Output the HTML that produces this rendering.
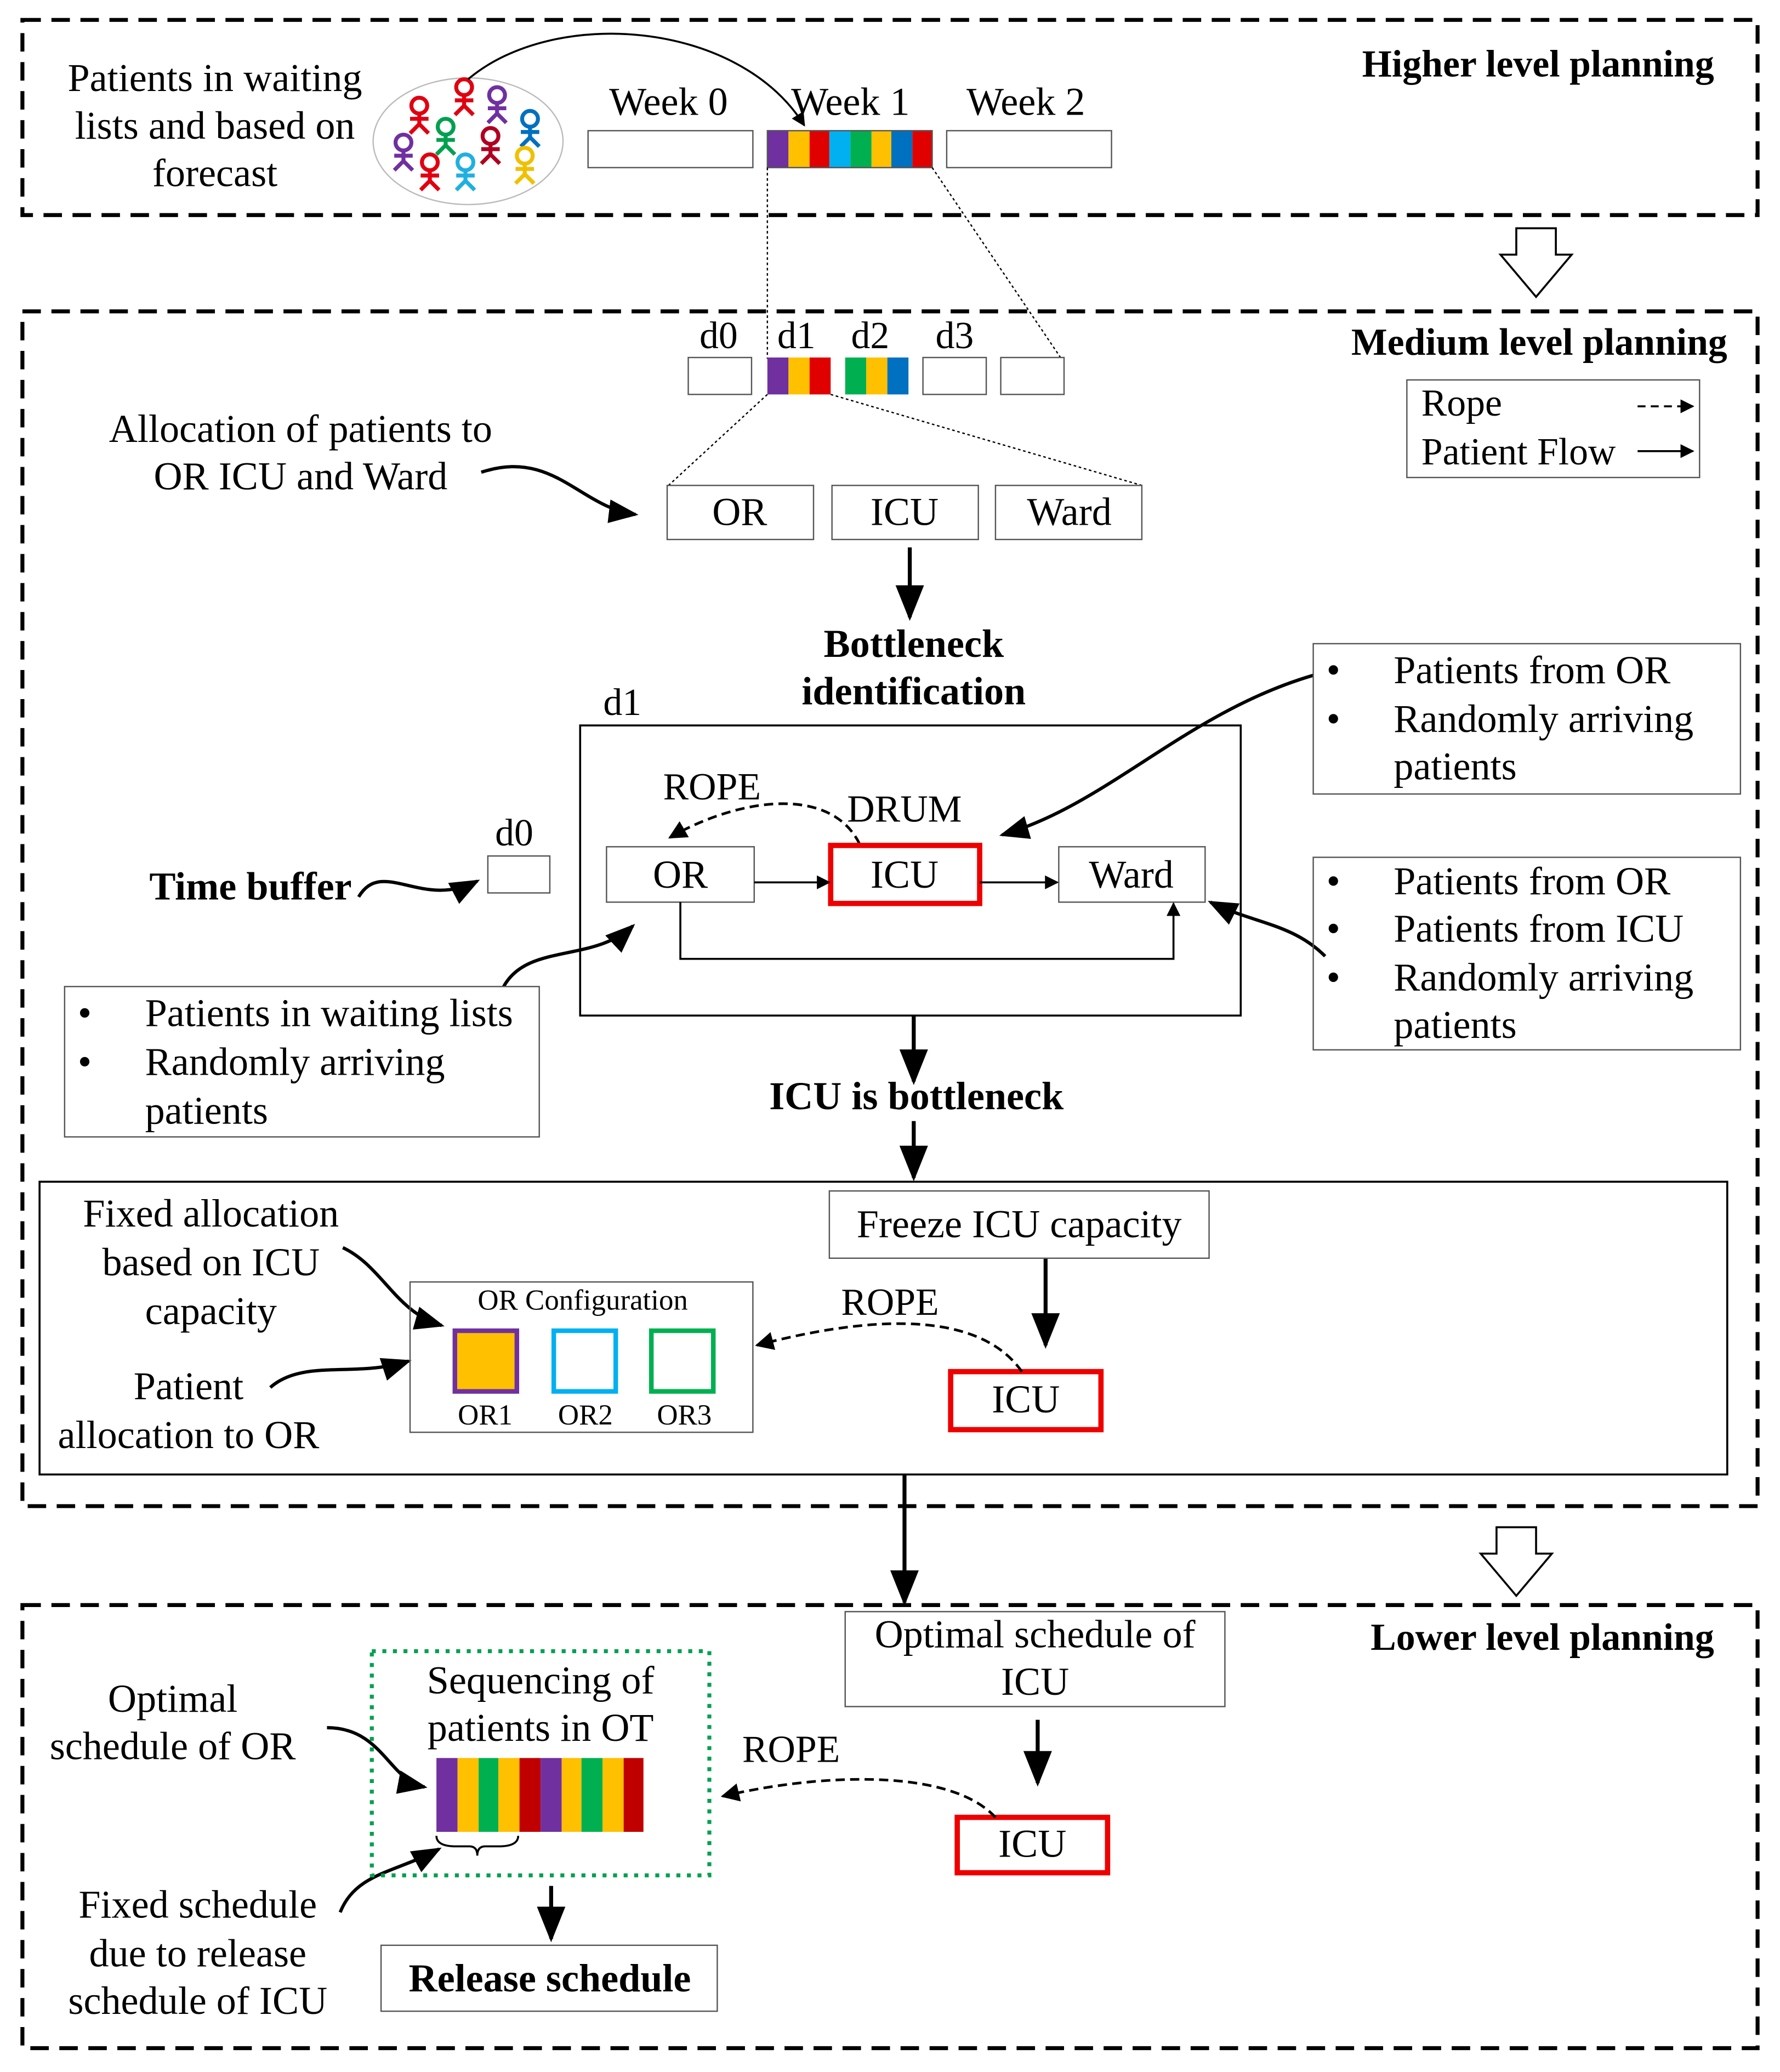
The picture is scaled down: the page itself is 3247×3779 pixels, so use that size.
<!DOCTYPE html>
<html><head><meta charset="utf-8"><style>
html,body{margin:0;padding:0;background:#fff}
svg{display:block}
text{font-family:"Liberation Serif",serif;fill:#000}
</style></head><body>
<svg width="3247" height="3779" viewBox="0 0 1350 1571" xmlns="http://www.w3.org/2000/svg">
<defs>
<marker id="ah" viewBox="0 0 10 10" refX="9" refY="5" markerWidth="7" markerHeight="7" orient="auto"><path d="M0,0 L10,5 L0,10 Z" fill="#000"/></marker>
<marker id="as" viewBox="0 0 10 10" refX="9" refY="5" markerWidth="9" markerHeight="9" orient="auto"><path d="M0,1 L10,5 L0,9 Z" fill="#000"/></marker>
<g id="fig"><circle cx="0" cy="0" r="6" fill="none" stroke-width="3"/><line x1="0" y1="6" x2="0" y2="14" stroke-width="3"/><line x1="-7" y1="10" x2="7" y2="10" stroke-width="3"/><line x1="0" y1="14" x2="-7" y2="21" stroke-width="3"/><line x1="0" y1="14" x2="7" y2="21" stroke-width="3"/></g>
</defs>
<rect width="1350" height="1571" fill="#fff"/>
<g fill="none" stroke="#000" stroke-width="3" stroke-dasharray="14 8">
<rect x="17" y="15" width="1316" height="148"/>
<rect x="17" y="236" width="1316" height="906"/>
<rect x="17" y="1217" width="1316" height="336"/>
</g>
<g font-size="30" text-anchor="middle">
<text x="163" y="69">Patients in waiting</text><text x="163" y="105">lists and based on</text><text x="163" y="141">forecast</text>
<text x="507" y="87">Week 0</text><text x="645" y="87">Week 1</text><text x="778" y="87">Week 2</text>
</g>
<text x="1300" y="58" font-size="29" font-weight="bold" text-anchor="end">Higher level planning</text>
<ellipse cx="355" cy="107" rx="72" ry="48" fill="none" stroke="#bbb" stroke-width="1"/>
<use href="#fig" x="352" y="66" stroke="#e00010"/><use href="#fig" x="318" y="80" stroke="#e00010"/><use href="#fig" x="377" y="72" stroke="#7030a0"/>
<use href="#fig" x="338" y="96" stroke="#00a050"/><use href="#fig" x="402" y="90" stroke="#0070c0"/><use href="#fig" x="306" y="108" stroke="#7030a0"/>
<use href="#fig" x="372" y="103" stroke="#b00020"/><use href="#fig" x="326" y="123" stroke="#e00010"/><use href="#fig" x="353" y="123" stroke="#20b0e0"/><use href="#fig" x="398" y="118" stroke="#f0c000"/>
<path d="M355,60 C420,5 560,15 610,95" fill="none" stroke="#000" stroke-width="1.5" marker-end="url(#ah)"/>
<g stroke="#555" stroke-width="1" fill="#fff"><rect x="446" y="99" width="125" height="28"/><rect x="718" y="99" width="125" height="28"/></g>
<g stroke="none">
<rect x="582" y="99" width="16" height="28" fill="#7030a0"/><rect x="598" y="99" width="16" height="28" fill="#ffc000"/><rect x="614" y="99" width="15" height="28" fill="#e00000"/><rect x="629" y="99" width="16" height="28" fill="#00b0f0"/><rect x="645" y="99" width="16" height="28" fill="#00b050"/><rect x="661" y="99" width="15" height="28" fill="#ffc000"/><rect x="676" y="99" width="16" height="28" fill="#0070c0"/><rect x="692" y="99" width="15" height="28" fill="#e00000"/>
</g>
<rect x="582" y="99" width="125" height="28" fill="none" stroke="#555" stroke-width="1"/>
<g stroke="#000" stroke-width="1" stroke-dasharray="2 2"><line x1="582" y1="127" x2="582" y2="272"/><line x1="707" y1="127" x2="805" y2="272"/><line x1="582" y1="299" x2="507" y2="368"/><line x1="630" y1="299" x2="866" y2="368"/></g>
<path d="M1150,173 h30 v20 h12 l-27,32 l-27,-32 h12 z" fill="#fff" stroke="#000" stroke-width="1.5"/>
<path d="M1135,1158 h30 v20 h12 l-27,32 l-27,-32 h12 z" fill="#fff" stroke="#000" stroke-width="1.5"/>
<g font-size="29" text-anchor="middle"><text x="545" y="264">d0</text><text x="604" y="264">d1</text><text x="660" y="264">d2</text><text x="724" y="264">d3</text></g>
<text x="1310" y="269" font-size="29" font-weight="bold" text-anchor="end">Medium level planning</text>
<g stroke="#555" stroke-width="1" fill="#fff"><rect x="522" y="271" width="48" height="28"/><rect x="700" y="271" width="48" height="28"/><rect x="759" y="271" width="48" height="28"/></g>
<rect x="582" y="271" width="16" height="28" fill="#7030a0"/><rect x="598" y="271" width="16" height="28" fill="#ffc000"/><rect x="614" y="271" width="16" height="28" fill="#e00000"/>
<rect x="641" y="271" width="16" height="28" fill="#00b050"/><rect x="657" y="271" width="16" height="28" fill="#ffc000"/><rect x="673" y="271" width="16" height="28" fill="#0070c0"/>
<rect x="1067" y="288" width="222" height="74" fill="none" stroke="#555" stroke-width="1"/>
<text x="1078" y="315" font-size="29">Rope</text><text x="1078" y="352" font-size="29">Patient Flow</text>
<line x1="1242" y1="308" x2="1284" y2="308" stroke="#000" stroke-width="1.5" stroke-dasharray="6 4" marker-end="url(#ah)"/>
<line x1="1242" y1="342" x2="1284" y2="342" stroke="#000" stroke-width="1.5" marker-end="url(#ah)"/>
<g font-size="30" text-anchor="middle"><text x="228" y="335">Allocation of patients to</text><text x="228" y="371">OR ICU and Ward</text></g>
<path d="M365,358 C420,340 440,385 482,390" fill="none" stroke="#000" stroke-width="2.5" marker-end="url(#as)"/>
<g stroke="#555" stroke-width="1" fill="#fff"><rect x="506" y="368" width="111" height="41"/><rect x="631" y="368" width="111" height="41"/><rect x="755" y="368" width="111" height="41"/></g>
<g font-size="30" text-anchor="middle"><text x="561" y="398">OR</text><text x="686" y="398">ICU</text><text x="811" y="398">Ward</text></g>
<g stroke="#000" stroke-width="3" marker-end="url(#as)">
<line x1="690" y1="415" x2="690" y2="468"/><line x1="693" y1="770" x2="693" y2="820"/><line x1="693" y1="850" x2="693" y2="893"/>
<line x1="793" y1="954" x2="793" y2="1020"/><line x1="686" y1="1118" x2="686" y2="1215"/><line x1="787" y1="1304" x2="787" y2="1352"/><line x1="418" y1="1430" x2="418" y2="1470"/>
</g>
<g font-size="30" font-weight="bold" text-anchor="middle"><text x="693" y="498">Bottleneck</text><text x="693" y="534">identification</text><text x="695" y="841">ICU is bottleneck</text></g>
<text x="472" y="542" font-size="29" text-anchor="middle">d1</text>
<rect x="440" y="550" width="501" height="220" fill="none" stroke="#000" stroke-width="1.5"/>
<text x="540" y="606" font-size="29" text-anchor="middle">ROPE</text><text x="686" y="623" font-size="29" text-anchor="middle">DRUM</text>
<path d="M652,640 C630,595 560,605 508,635" fill="none" stroke="#000" stroke-width="2" stroke-dasharray="7 4" marker-end="url(#ah)"/>
<rect x="460" y="642" width="112" height="42" fill="#fff" stroke="#555" stroke-width="1"/>
<rect x="630" y="641" width="113" height="44" fill="#fff" stroke="#e00" stroke-width="4"/>
<rect x="803" y="642" width="111" height="42" fill="#fff" stroke="#555" stroke-width="1"/>
<g font-size="30" text-anchor="middle"><text x="516" y="673">OR</text><text x="686" y="673">ICU</text><text x="858" y="673">Ward</text></g>
<g stroke="#000" stroke-width="1.5" fill="none" marker-end="url(#ah)"><line x1="572" y1="669" x2="629" y2="669"/><line x1="743" y1="669" x2="802" y2="669"/><path d="M516,684 V727 H890 V685"/></g>
<text x="390" y="641" font-size="29" text-anchor="middle">d0</text>
<rect x="370" y="649" width="47" height="28" fill="#fff" stroke="#555" stroke-width="1"/>
<text x="190" y="682" font-size="30" font-weight="bold" text-anchor="middle">Time buffer</text>
<g stroke="#000" stroke-width="2.5" fill="none" marker-end="url(#as)">
<path d="M272,680 C290,650 320,690 362,668"/>
<path d="M996,512 C900,540 840,610 760,633"/>
<path d="M1005,725 C980,700 950,700 918,684"/>
<path d="M382,748 C400,715 450,730 480,702"/>
<path d="M260,946 C290,960 300,995 335,1005"/>
<path d="M205,1052 C230,1030 270,1045 310,1032"/>
<path d="M248,1310 C290,1310 295,1350 322,1355"/>
<path d="M258,1450 C270,1420 300,1420 333,1402"/>
</g>
<rect x="996" y="488" width="324" height="114" fill="none" stroke="#555" stroke-width="1"/>
<rect x="996" y="650" width="324" height="146" fill="none" stroke="#555" stroke-width="1"/>
<rect x="49" y="748" width="360" height="114" fill="none" stroke="#555" stroke-width="1"/>
<g font-size="30">
<text x="1006" y="518">•</text><text x="1057" y="518">Patients from OR</text><text x="1006" y="555">•</text><text x="1057" y="555">Randomly arriving</text><text x="1057" y="591">patients</text>
<text x="1006" y="678">•</text><text x="1057" y="678">Patients from OR</text><text x="1006" y="714">•</text><text x="1057" y="714">Patients from ICU</text><text x="1006" y="751">•</text><text x="1057" y="751">Randomly arriving</text><text x="1057" y="787">patients</text>
<text x="59" y="778">•</text><text x="110" y="778">Patients in waiting lists</text><text x="59" y="815">•</text><text x="110" y="815">Randomly arriving</text><text x="110" y="852">patients</text>
</g>
<rect x="30" y="896" width="1280" height="222" fill="none" stroke="#000" stroke-width="1.5"/>
<rect x="629" y="903" width="288" height="51" fill="none" stroke="#555" stroke-width="1"/>
<text x="773" y="938" font-size="30" text-anchor="middle">Freeze ICU capacity</text>
<rect x="721" y="1040" width="114" height="44" fill="#fff" stroke="#e00" stroke-width="4"/>
<text x="778" y="1071" font-size="30" text-anchor="middle">ICU</text>
<text x="675" y="997" font-size="29" text-anchor="middle">ROPE</text>
<path d="M775,1040 C740,990 650,1000 574,1020" fill="none" stroke="#000" stroke-width="2" stroke-dasharray="7 4" marker-end="url(#ah)"/>
<rect x="311" y="972" width="260" height="114" fill="none" stroke="#555" stroke-width="1"/>
<text x="442" y="993" font-size="22" text-anchor="middle">OR Configuration</text>
<rect x="345" y="1009" width="47" height="46" fill="#ffc000" stroke="#7030a0" stroke-width="3.5"/>
<rect x="420" y="1009" width="47" height="46" fill="#fff" stroke="#00b0f0" stroke-width="3.5"/>
<rect x="494" y="1009" width="47" height="46" fill="#fff" stroke="#00b050" stroke-width="3.5"/>
<g font-size="22" text-anchor="middle"><text x="368" y="1080">OR1</text><text x="444" y="1080">OR2</text><text x="519" y="1080">OR3</text></g>
<g font-size="30" text-anchor="middle">
<text x="160" y="930">Fixed allocation</text><text x="160" y="967">based on ICU</text><text x="160" y="1004">capacity</text>
<text x="143" y="1061">Patient</text><text x="143" y="1098">allocation to OR</text>
</g>
<text x="1300" y="1251" font-size="29" font-weight="bold" text-anchor="end">Lower level planning</text>
<rect x="641" y="1222" width="288" height="72" fill="none" stroke="#555" stroke-width="1"/>
<g font-size="30" text-anchor="middle"><text x="785" y="1249">Optimal schedule of</text><text x="785" y="1285">ICU</text></g>
<rect x="726" y="1378" width="114" height="42" fill="#fff" stroke="#e00" stroke-width="4"/>
<text x="783" y="1408" font-size="30" text-anchor="middle">ICU</text>
<text x="600" y="1336" font-size="29" text-anchor="middle">ROPE</text>
<path d="M755,1378 C720,1340 620,1345 548,1362" fill="none" stroke="#000" stroke-width="2" stroke-dasharray="7 4" marker-end="url(#ah)"/>
<rect x="282" y="1252" width="256" height="170" fill="none" stroke="#00a050" stroke-width="3" stroke-dasharray="3 5"/>
<g font-size="30" text-anchor="middle"><text x="410" y="1284">Sequencing of</text><text x="410" y="1320">patients in OT</text></g>
<g>
<rect x="331" y="1333" width="16" height="56" fill="#7030a0"/><rect x="347" y="1333" width="16" height="56" fill="#ffc000"/><rect x="363" y="1333" width="15" height="56" fill="#00b050"/><rect x="378" y="1333" width="16" height="56" fill="#ffc000"/><rect x="394" y="1333" width="16" height="56" fill="#c00000"/>
<rect x="410" y="1333" width="16" height="56" fill="#7030a0"/><rect x="426" y="1333" width="15" height="56" fill="#ffc000"/><rect x="441" y="1333" width="16" height="56" fill="#00b050"/><rect x="457" y="1333" width="16" height="56" fill="#ffc000"/><rect x="473" y="1333" width="15" height="56" fill="#c00000"/>
</g>
<path d="M331,1392 q0,8 15,8 h10 q6,0 6,7 q0,-7 6,-7 h10 q15,0 15,-8" fill="none" stroke="#000" stroke-width="1.5"/>
<g font-size="30" text-anchor="middle">
<text x="131" y="1298">Optimal</text><text x="131" y="1334">schedule of OR</text>
<text x="150" y="1454">Fixed schedule</text><text x="150" y="1491">due to release</text><text x="150" y="1527">schedule of ICU</text>
</g>
<rect x="289" y="1475" width="255" height="50" fill="none" stroke="#555" stroke-width="1"/>
<text x="417" y="1510" font-size="30" font-weight="bold" text-anchor="middle">Release schedule</text>
</svg>
</body></html>
